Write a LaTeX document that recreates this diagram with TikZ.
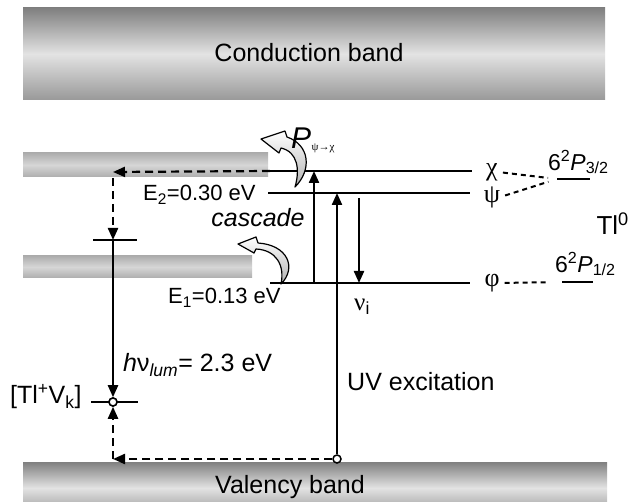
\documentclass[tikz,border=0pt]{standalone}
\usepackage{fontspec}
\setmainfont{Liberation Sans}
\newfontfamily\grk{Liberation Serif}
\usetikzlibrary{arrows.meta}

\begin{document}
\begin{tikzpicture}[x=1pt,y=-1pt,>={Triangle[length=12pt,width=10pt]},
	font=\fontsize{25}{30}\selectfont,
	band node/.style={inner sep=0pt,top color=black!50,bottom color=black!40,middle color=black!11},
	trap node/.style={inner sep=0pt,top color=black!32,bottom color=black!32,middle color=black!16},
	level line/.style={line width=2.2pt},
	dash line/.style={line width=2.2pt,dash pattern=on 8pt off 5pt},
	term dash/.style={line width=2pt,dash pattern=on 5pt off 4pt},
	label node/.style={inner sep=0pt},
	greek node/.style={inner sep=0pt,font=\fontsize{26}{30}\selectfont\grk},
	dot node/.style={circle,draw,fill=white,inner sep=0pt,minimum size=8pt,line width=1.5pt},
	swirl/.style={draw,line width=1.2pt,line join=round,top color=white,bottom color=black!30}]
	\useasboundingbox (0,0) rectangle (629,502);
	\clip (0,0) rectangle (629,502);
	
	% bands
	\node[band node,minimum width=582pt,minimum height=92pt] (cb) at (314,54) {};
	\node[label node] (cbtext) at (309,53) {Conduction band};
	\node[band node,minimum width=584pt,minimum height=52pt] (vb) at (315,488) {};
	\node[label node] (vbtext) at (290,487) {Valency band};
	\node[trap node,minimum width=245pt,minimum height=24pt] (trap2) at (145.5,165) {};
	\node[trap node,minimum width=229pt,minimum height=22pt] (trap1) at (137.5,267) {};
	
	% Tl0 levels
	\coordinate (chiL) at (270,171);
	\coordinate (chiR) at (472,171);
	\coordinate (psiL) at (268,193);
	\coordinate (psiR) at (470,193);
	\coordinate (phiL) at (270,283);
	\coordinate (phiR) at (470,283);
	\draw[level line] (chiL) -- (chiR);
	\draw[level line] (psiL) -- (psiR);
	\draw[level line] (phiL) -- (phiR);
	
	\node[greek node] (chi) at (492,172) {χ};
	\node[greek node] (psi) at (492,197) {ψ};
	\node[greek node] (phi) at (492,283) {φ};
	
	\coordinate (p32L) at (557,179);
	\coordinate (p32R) at (590,179);
	\coordinate (p12L) at (562,282);
	\coordinate (p12R) at (593,282);
	\draw[level line] (p32L) -- (p32R);
	\draw[level line] (p12L) -- (p12R);
	\draw[term dash,shorten <=5pt,shorten >=9pt] (chi.east) -- (p32L);
	\draw[term dash,shorten <=5pt,shorten >=9pt] (psi.east) -- (p32L);
	\draw[term dash,shorten <=5pt,shorten >=13pt] (phi.east) -- (p12L);
	
	\node[label node,anchor=west,font=\fontsize{23}{26}\selectfont] (p32) at (548,162) {6\textsuperscript{2}\textit{P}\textsubscript{3/2}};
	\node[label node,anchor=west,font=\fontsize{23}{26}\selectfont] (p12) at (555,264) {6\textsuperscript{2}\textit{P}\textsubscript{1/2}};
	\node[label node,anchor=east,font=\fontsize{26}{30}\selectfont] (tl0) at (629,224) {Tl\textsuperscript{0}};
	
	% excitation and relaxation
	\node[dot node] (uvdot) at (337,459) {};
	\coordinate (exA) at (314,283);
	\coordinate (relax) at (359,198);
	\draw[->,level line] (exA) -- (exA |- chiL);
	\draw[->,level line] (uvdot) -- (uvdot |- psiL);
	\draw[->,level line] (relax) -- (relax |- phiL);
	
	% trap side
	\coordinate (hop) at (113,172);
	\coordinate (t1) at (113,240);
	\node[dot node] (tvk) at (113,402) {};
	\coordinate (vbL) at (113,459);
	\draw[level line] ([xshift=-20pt]t1) -- ([xshift=24pt]t1);
	\draw[level line] ([xshift=-22pt]tvk.center) -- ([xshift=25pt]tvk.center);
	\node[dot node] at (tvk) {};
	\draw[->,dash line] (chiL) -- (hop);
	\draw[->,dash line,shorten <=6pt] (hop) -- (t1);
	\draw[->,level line] (t1) -- (tvk);
	\draw[->,dash line] (uvdot) -- (vbL);
	\draw[->,dash line] (vbL) -- (tvk);
	
	% curved arrows
	\draw[swirl] (295,187) .. controls (312,170) and (310,145) .. (287,137)
		-- (285,131) -- (261,139) -- (279,153) -- (281,148)
		.. controls (298,152) and (300,170) .. (295,187) -- cycle;
	\draw[swirl] (281,284) .. controls (297,268) and (288,245) .. (258,243)
		-- (256,237) -- (238,244) -- (254,253) -- (256,249)
		.. controls (276,250) and (285,265) .. (281,284) -- cycle;
	
	% labels
	\node[label node,anchor=west,font=\fontsize{30}{30}\selectfont\itshape] (pprob) at (291,138) {P};
	\node[label node,anchor=west,font=\fontsize{11}{12}\selectfont\grk] (pidx) at (pprob.south east) {ψ→χ};
	\node[label node,anchor=west,font=\fontsize{22}{26}\selectfont] (e2) at (143,195) {E\textsubscript{2}=0.30 eV};
	\node[label node,font=\fontsize{25}{30}\selectfont\itshape] (casc) at (258,218) {cascade};
	\node[label node,anchor=west,font=\fontsize{22}{26}\selectfont] (e1) at (168,298) {E\textsubscript{1}=0.13 eV};
	\node[label node,anchor=west] (nui) at (354,307) {{\grk ν}\textsubscript{i}};
	\node[label node,anchor=west] (hnu) at (123,365) {\textit{h}ν\textsubscript{\itshape lum}= 2.3 eV};
	\node[label node,anchor=west] (tlvk) at (10,397) {[Tl\textsuperscript{+}V\textsubscript{k}]};
	\node[label node,anchor=west] (uv) at (347,382) {UV excitation};
\end{tikzpicture}
\end{document}
